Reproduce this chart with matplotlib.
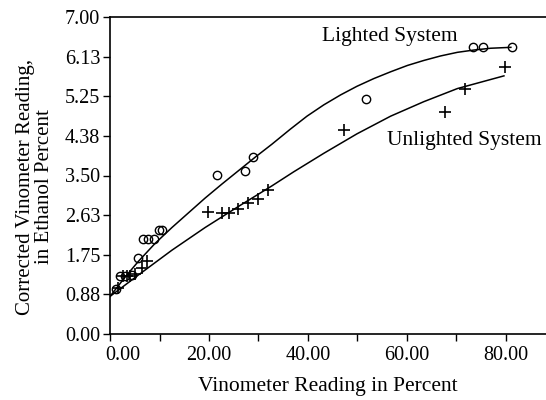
import matplotlib.pyplot as plt
from matplotlib.transforms import ScaledTranslation

# Lighted system: observed points (circles) and the drawn fit curve
LIT_X = [1.3, 2.0, 3.0, 4.5, 5.7, 6.7, 7.7, 8.8, 9.8, 10.6,
         21.6, 27.2, 28.9, 51.8, 73.3, 75.4, 81.3]
LIT_Y = [0.99, 1.27, 1.29, 1.30, 1.68, 2.09, 2.09, 2.09, 2.30, 2.30,
         3.51, 3.59, 3.90, 5.20, 6.33, 6.33, 6.33]
LIT_CURVE_X = [0.0, 3.0, 5.7, 9.1, 12.5, 15.9, 19.2, 22.6, 26.0, 29.4,
               32.7, 36.4, 39.8, 43.2, 46.6, 49.9, 53.3, 56.7, 60.1,
               63.4, 66.8, 70.2, 73.5, 76.9, 81.0]
LIT_CURVE_Y = [0.83, 1.25, 1.60, 2.00, 2.35, 2.68, 3.00, 3.31, 3.61, 3.91,
               4.19, 4.52, 4.81, 5.06, 5.28, 5.47, 5.64, 5.79, 5.93,
               6.04, 6.14, 6.22, 6.27, 6.31, 6.33]

# Unlighted system: observed points (crosses) and fit curve
UNL_X = [1.7, 2.7, 3.4, 4.1, 5.0, 6.4, 7.4, 19.9, 22.6, 24.1, 25.8,
         27.9, 29.9, 31.9, 47.2, 67.6, 71.7, 79.8]
UNL_Y = [1.01, 1.27, 1.29, 1.29, 1.32, 1.46, 1.62, 2.70, 2.68, 2.68, 2.77,
         2.89, 2.99, 3.18, 4.50, 4.90, 5.41, 5.90]
UNL_CURVE_X = [0.0, 5.7, 12.5, 19.2, 26.0, 32.7, 37.1, 43.2, 49.9, 56.7,
               63.4, 70.2, 79.6]
UNL_CURVE_Y = [0.83, 1.30, 1.85, 2.35, 2.82, 3.27, 3.58, 3.99, 4.42, 4.81,
               5.13, 5.42, 5.70]

Y_TICKS = [0.0, 0.875, 1.75, 2.625, 3.5, 4.375, 5.25, 6.125, 7.0]
Y_LABELS = ["0.00", "0.88", "1.75", "2.63", "3.50", "4.38", "5.25", "6.13", "7.00"]
X_MAJOR = [0, 20, 40, 60, 80]
X_MINOR = [10, 30, 50, 70]

plt.rcParams["font.family"] = ["Liberation Serif", "DejaVu Serif"]

fig = plt.figure(figsize=(5.46, 4.0), dpi=100)
ax = fig.add_axes([0.2015, 0.165, 0.7985, 0.7925])

ax.plot(LIT_CURVE_X, LIT_CURVE_Y, color="black", lw=1.1)
ax.plot(UNL_CURVE_X, UNL_CURVE_Y, color="black", lw=1.1)
ax.plot(LIT_X, LIT_Y, "o", mfc="none", mec="black", ms=6, mew=1.0)
ax.plot(UNL_X, UNL_Y, "+", color="black", ms=8, mew=1.2)

ax.set_xlim(0, 88.1)
ax.set_ylim(0, 7.0)
ax.set_yticks(Y_TICKS, Y_LABELS)
ax.set_xticks(X_MAJOR, [f"{v:.2f}" for v in X_MAJOR])
ax.set_xticks(X_MINOR, minor=True)
ax.tick_params(axis="both", which="both", direction="out", length=5,
               width=1.0, labelsize=14.5, pad=2)
ax.tick_params(axis="x", pad=4)

# first x label sits right of its tick, clear of the y-axis "0.00"
first = ax.get_xticklabels()[0]
first.set_ha("left")
first.set_transform(first.get_transform()
                    + ScaledTranslation(-5 / 100, 0, fig.dpi_scale_trans))

ax.spines["right"].set_visible(False)
for side in ("left", "bottom", "top"):
    ax.spines[side].set_linewidth(1.2)

ax.set_xlabel("Vinometer Reading in Percent", fontsize=15.5, labelpad=8)
ax.set_ylabel("Corrected Vinometer Reading,\nin Ethanol Percent",
              fontsize=15, linespacing=1.0)
ax.yaxis.set_label_coords(-0.128, 0.465)

ax.text(56.5, 6.56, "Lighted System", fontsize=15.5, ha="center", va="center")
ax.text(71.5, 4.27, "Unlighted System", fontsize=15.5, ha="center", va="center")

fig.savefig("out.png", dpi=100)
